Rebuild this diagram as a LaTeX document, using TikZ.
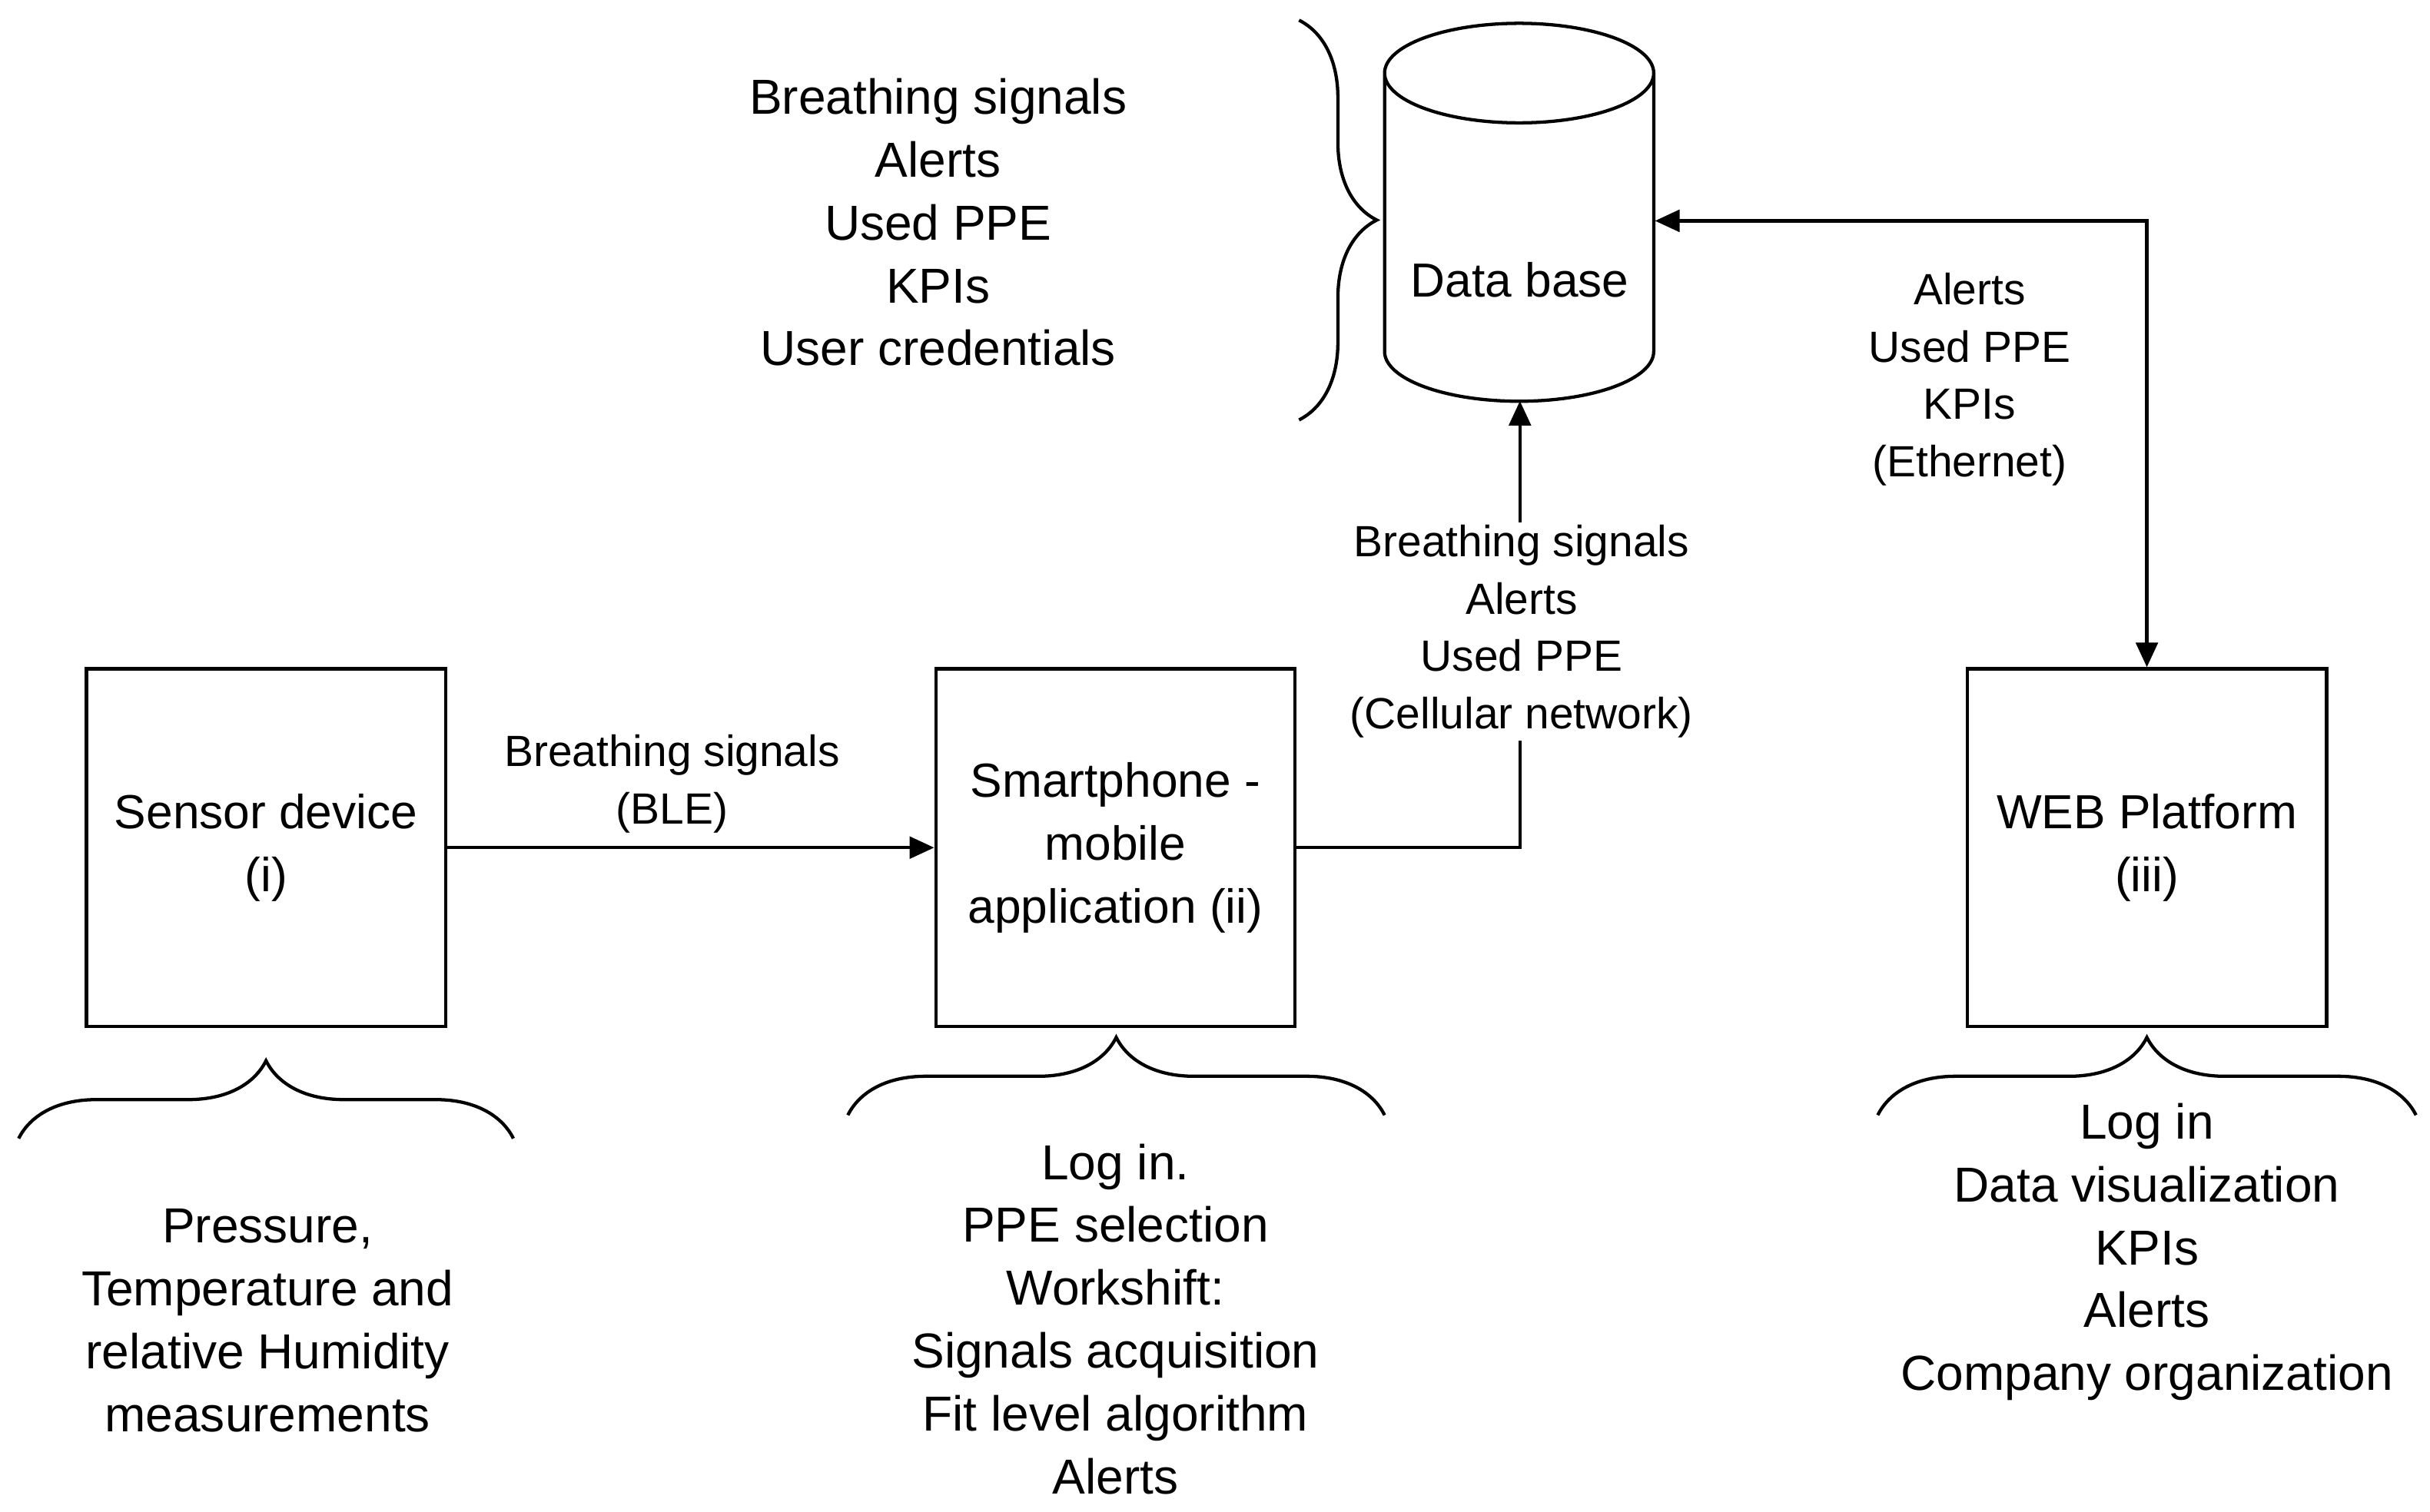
\documentclass[tikz,border=0pt]{standalone}
\usepackage{fontspec}
\setmainfont{Liberation Sans}
\usetikzlibrary{shapes.geometric,arrows.meta,decorations.pathreplacing}
\begin{document}
\begin{tikzpicture}[x=0.02cm,y=-0.02cm,
  box/.style={draw,line width=1.2pt,minimum width=4.62cm,minimum height=4.6cm,align=center,font=\fontsize{17.5}{23}\selectfont},
  txt/.style={align=center,font=\fontsize{18}{23}\selectfont},
  lbl/.style={align=center,fill=white,inner sep=1pt,font=\fontsize{16}{21}\selectfont},
  con/.style={line width=1.2pt,-{Triangle[length=9pt,width=8pt]}},
  br/.style={line width=1.2pt,decorate,decoration={brace,amplitude=1cm,aspect=0.5}}]
\useasboundingbox (0,0) rectangle (1562,972);
\node[box] (s) at (171,545) {Sensor device\\(i)};
\node[box] (m) at (717,545) {Smartphone -\\mobile\\application (ii)};
\node[box] (w) at (1380,545) {WEB Platform\\(iii)};
\node[minimum width=3.46cm,minimum height=4.86cm,inner sep=0pt] (db) at (977,136) {};
\draw[line width=1.2pt] (890,47) arc[start angle=180,end angle=-180,x radius=86.5,y radius=-32]
  (890,47) -- (890,226) arc[start angle=180,end angle=360,x radius=86.5,y radius=-32] -- (1063,47);
\node[font=\fontsize{17.5}{23}\selectfont] (dbt) at (977,180) {Data base};
\coordinate (c1) at (977,545);
\coordinate (c2) at (1380,142);
\draw[con] (s.east) -- (m.east -| m.west);
\draw[con] (m.east) -- (c1) -- (db.south);
\draw[con,{Triangle[length=9pt,width=8pt]}-{Triangle[length=9pt,width=8pt]}] (db.east |- c2) -- (c2) -- (w.north);
\node[lbl] at (432,504) {Breathing signals\\(BLE)};
\node[lbl] at (978,406) {Breathing signals\\Alerts\\Used PPE\\(Cellular network)};
\node[lbl] at (1266,244) {Alerts\\Used PPE\\KPIs\\(Ethernet)};
\node[txt] at (603,143) {Breathing signals\\Alerts\\Used PPE\\KPIs\\User credentials};
\draw[br] (835,13) -- (835,270);
\draw[br] (12,732) -- (330,732);
\draw[br] (545,717) -- (890,717);
\draw[br] (1207,717) -- (1553,717);
\node[txt] at (172,849) {Pressure,\\Temperature and\\relative Humidity\\measurements};
\node[txt] at (717,848) {Log in.\\PPE selection\\Workshift:\\Signals acquisition\\Fit level algorithm\\Alerts};
\node[txt] at (1380,805) {Log in\\Data visualization\\KPIs\\Alerts\\Company organization};
\end{tikzpicture}
\end{document}
